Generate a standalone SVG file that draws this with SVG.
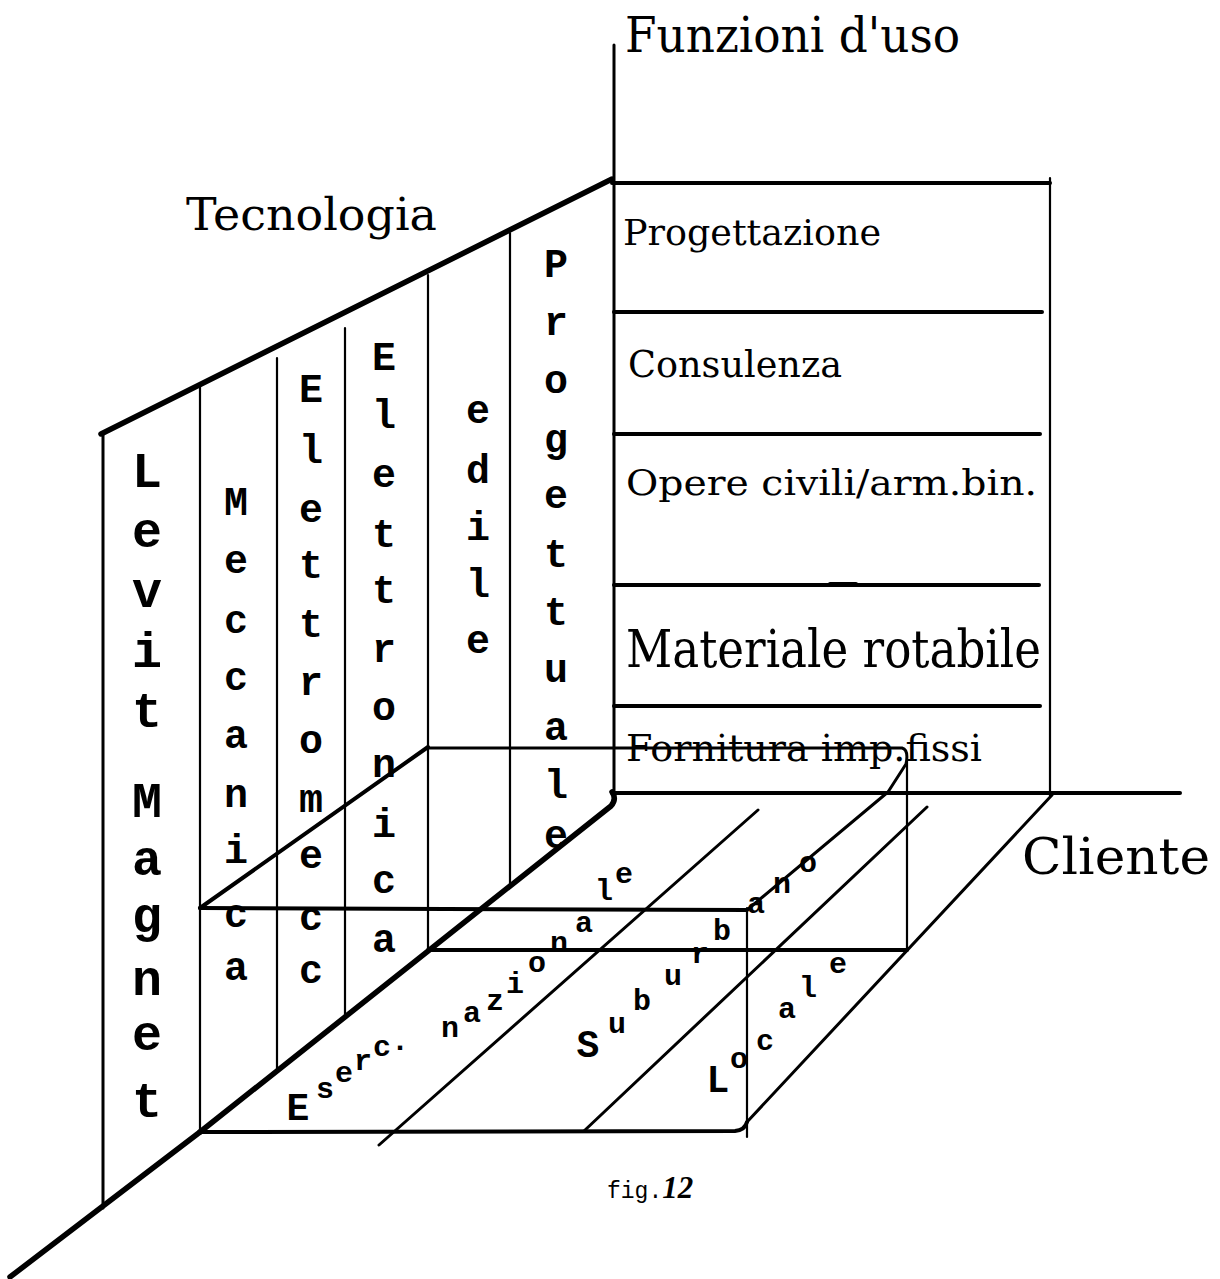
<svg xmlns="http://www.w3.org/2000/svg" width="1220" height="1279" viewBox="0 0 1220 1279">
<style>
  .ln { fill: none; stroke: #000; stroke-linecap: round; stroke-linejoin: round; }
  .t1 { stroke-width: 2.2; }
  .t2 { stroke-width: 3; }
  .t3 { stroke-width: 4; }
  .t4 { stroke-width: 5.5; }
  .h { font-family: "DejaVu Serif", "Liberation Serif", serif; fill: #000; }
  .v { font-family: "Liberation Mono", "DejaVu Sans Mono", monospace; font-weight: bold; font-size: 40px; text-anchor: middle; fill: #000; }
  .vl { font-family: "Liberation Mono", "DejaVu Sans Mono", monospace; font-weight: bold; font-size: 50px; text-anchor: middle; fill: #000; }
  .fl { font-family: "Liberation Mono", "DejaVu Sans Mono", monospace; font-weight: bold; font-size: 30px; text-anchor: middle; fill: #000; }
  .fc { font-size: 38px; }
</style>
<rect width="1220" height="1279" fill="#fff"/>

<!-- Tecnologia wall -->
<g id="wall">
  <path class="ln t2" d="M103,1208 L103,434"/>
  <path class="ln t4" d="M101,434 L612,179"/>
  <path class="ln t1" d="M200,386 L200,1132"/>
  <path class="ln t1" d="M277,358 L277,1071"/>
  <path class="ln t1" d="M345,328 L345,1016"/>
  <path class="ln t1" d="M428,275 L428,950"/>
  <path class="ln t1" d="M510,233 L510,884"/>
  <g id="col-levit">
    <text class="vl"><tspan x="147" y="487">L</tspan><tspan x="147" y="547">e</tspan><tspan x="147" y="607">v</tspan><tspan x="147" y="667">i</tspan><tspan x="147" y="727">t</tspan><tspan x="147" y="817">M</tspan><tspan x="147" y="875">a</tspan><tspan x="147" y="932">g</tspan><tspan x="147" y="995">n</tspan><tspan x="147" y="1050">e</tspan><tspan x="147" y="1117">t</tspan></text>
  </g>
  <g id="col-meccanica">
    <text class="v"><tspan x="236" y="515">M</tspan><tspan x="236" y="573">e</tspan><tspan x="236" y="633">c</tspan><tspan x="236" y="690">c</tspan><tspan x="236" y="748">a</tspan><tspan x="236" y="807">n</tspan><tspan x="236" y="863">i</tspan><tspan x="236" y="927">c</tspan><tspan x="236" y="980">a</tspan></text>
  </g>
  <g id="col-elettromecc">
    <text class="v"><tspan x="311" y="402">E</tspan><tspan x="311" y="463">l</tspan><tspan x="311" y="522">e</tspan><tspan x="311" y="578">t</tspan><tspan x="311" y="637">t</tspan><tspan x="311" y="695">r</tspan><tspan x="311" y="753">o</tspan><tspan x="311" y="812">m</tspan><tspan x="311" y="868">e</tspan><tspan x="311" y="930">c</tspan><tspan x="311" y="983">c</tspan></text>
  </g>
  <g id="col-elettronica">
    <text class="v"><tspan x="384" y="370">E</tspan><tspan x="384" y="428">l</tspan><tspan x="384" y="487">e</tspan><tspan x="384" y="547">t</tspan><tspan x="384" y="603">t</tspan><tspan x="384" y="662">r</tspan><tspan x="384" y="720">o</tspan><tspan x="384" y="777">n</tspan><tspan x="384" y="837">i</tspan><tspan x="384" y="893">c</tspan><tspan x="384" y="952">a</tspan></text>
  </g>
  <g id="col-edile">
    <text class="v"><tspan x="478" y="423">e</tspan><tspan x="478" y="483">d</tspan><tspan x="478" y="540">i</tspan><tspan x="478" y="597">l</tspan><tspan x="478" y="653">e</tspan></text>
  </g>
  <g id="col-progettuale">
    <text class="v"><tspan x="556" y="277">P</tspan><tspan x="556" y="335">r</tspan><tspan x="556" y="393">o</tspan><tspan x="556" y="452">g</tspan><tspan x="556" y="508">e</tspan><tspan x="556" y="567">t</tspan><tspan x="556" y="625">t</tspan><tspan x="556" y="682">u</tspan><tspan x="556" y="740">a</tspan><tspan x="556" y="798">l</tspan><tspan x="556" y="848">e</tspan></text>
  </g>
  <text id="lbl-tecnologia" class="h" x="186" y="230" font-size="45" textLength="251" lengthAdjust="spacingAndGlyphs">Tecnologia</text>
</g>

<!-- Funzioni d'uso wall -->
<g id="functions">
  <path class="ln t2" d="M614,45 L614,793"/>
  <path class="ln t1" d="M1050,178 L1050,796"/>
  <path class="ln t3" d="M612,183 L1050,183"/>
  <path class="ln t3" d="M614,312 L1042,312"/>
  <path class="ln t3" d="M614,434 L1040,434"/>
  <path class="ln t3" d="M614,585 L1039,585"/>
  <path class="ln t3" d="M830,584 L856,584"/>
  <path class="ln t3" d="M614,706 L1040,706"/>
  <text id="lbl-funzioni" class="h" x="625" y="52" font-size="48" textLength="335" lengthAdjust="spacingAndGlyphs">Funzioni d'uso</text>
  <text class="h" x="623" y="245" font-size="35" textLength="258" lengthAdjust="spacingAndGlyphs">Progettazione</text>
  <text class="h" x="628" y="377" font-size="37" textLength="214" lengthAdjust="spacingAndGlyphs">Consulenza</text>
  <text class="h" x="626" y="495" font-size="36" textLength="411" lengthAdjust="spacingAndGlyphs">Opere civili/arm.bin.</text>
  <text class="h" x="626" y="667" font-size="52" textLength="415" lengthAdjust="spacingAndGlyphs">Materiale rotabile</text>
  <text class="h" x="626" y="761" font-size="37" textLength="356" lengthAdjust="spacingAndGlyphs">Fornitura imp.fissi</text>
</g>

<!-- Cliente floor -->
<g id="floor">
  <path class="ln t3" d="M612,793 L1180,793"/>
  <path class="ln t4" d="M200,1132 L10,1277"/>
  <path class="ln t4" d="M200,1132 L611,806 Q617,799 612,792"/>
  <path class="ln t3" d="M200,1132 L735,1131 Q745,1130 747,1122"/>
  <path class="ln t2" d="M747,1122 L1052,795"/>
  <path class="ln t2" d="M379,1145 L758,810"/>
  <path class="ln t2" d="M584,1131 L927,807"/>
  <text id="lbl-cliente" class="h" x="1022" y="874" font-size="50" textLength="188" lengthAdjust="spacingAndGlyphs">Cliente</text>
  <g id="row-nazionale">
    <text class="fl"><tspan class="fc" x="298" y="1120">E</tspan><tspan x="325" y="1098">s</tspan><tspan x="344" y="1082">e</tspan><tspan x="363" y="1070">r</tspan><tspan x="382" y="1056">c</tspan><tspan x="400" y="1050">.</tspan><tspan x="450" y="1037">n</tspan><tspan x="472" y="1022">a</tspan><tspan x="495" y="1010">z</tspan><tspan x="515" y="993">i</tspan><tspan x="537" y="972">o</tspan><tspan x="559" y="952">n</tspan><tspan x="584" y="932">a</tspan><tspan x="604" y="900">l</tspan><tspan x="624" y="883">e</tspan></text>
  </g>
  <g id="row-suburbano">
    <text class="fl"><tspan class="fc" x="588" y="1057">S</tspan><tspan x="617" y="1033">u</tspan><tspan x="642" y="1010">b</tspan><tspan x="673" y="985">u</tspan><tspan x="700" y="963">r</tspan><tspan x="722" y="940">b</tspan><tspan x="756" y="913">a</tspan><tspan x="782" y="893">n</tspan><tspan x="808" y="872">o</tspan></text>
  </g>
  <g id="row-locale">
    <text class="fl"><tspan class="fc" x="718" y="1092">L</tspan><tspan x="739" y="1068">o</tspan><tspan x="765" y="1050">c</tspan><tspan x="787" y="1018">a</tspan><tspan x="808" y="997">l</tspan><tspan x="838" y="973">e</tspan></text>
  </g>
</g>

<!-- inner block -->
<g id="inner-box">
  <path class="ln t3" d="M200,908 L747,910"/>
  <path class="ln t3" d="M200,908 L428,747"/>
  <path class="ln t2" d="M428,748 L902,748 Q909,750 906,764 L888,792 L747,910"/>
  <path class="ln t1" d="M747,908 L747,1137"/>
  <path class="ln t1" d="M907,760 L907,950"/>
  <path class="ln t3" d="M428,950 L907,950"/>
</g>

<g id="caption">
  <text x="607" y="1198" font-family="Liberation Mono, monospace" font-size="23" fill="#000">fig.<tspan font-family="Liberation Serif, serif" font-weight="bold" font-style="italic" font-size="31">12</tspan></text>
</g>
</svg>
